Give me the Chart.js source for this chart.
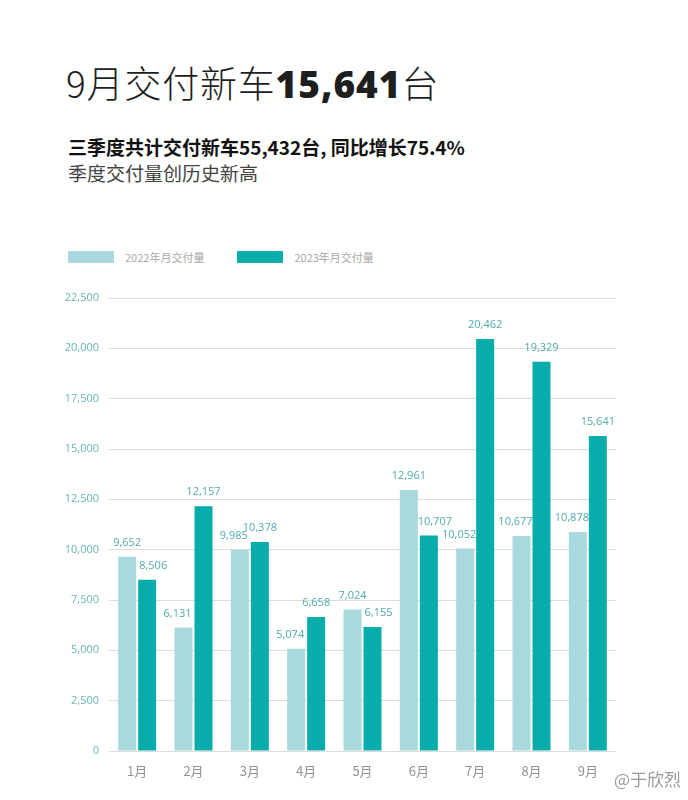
<!DOCTYPE html>
<html>
<head>
<meta charset="utf-8">
<script src="https://cdn.jsdelivr.net/npm/chart.js@4"></script>
<style>
  html, body { margin: 0; padding: 0; background: #fff; }
  body { width: 688px; height: 800px; position: relative; overflow: hidden;
         font-family: "Noto Sans CJK SC", "Noto Sans", sans-serif; }
  .title { position: absolute; left: 66px; top: 55px; font-size: 37px; font-weight: 300; color: #1e1e1e; white-space: nowrap; letter-spacing: 0.8px; }
  .title b { font-family: "Open Sans", "Noto Sans CJK SC", sans-serif; font-weight: 800; letter-spacing: 1px; }
  .sub1 { position: absolute; left: 68px; top: 133px; font-size: 19px; font-weight: 700; color: #111; white-space: nowrap; }
  .sub2 { position: absolute; left: 68px; top: 159px; font-size: 19px; color: #444; white-space: nowrap; }
  .legend { position: absolute; top: 249px; left: 68px; display: flex; align-items: center; font-size: 11px; color: #a8a8a8; }
  .legend .box { width: 46px; height: 12px; margin-right: 11px; }
  .legend .item { display: flex; align-items: center; margin-right: 33px; }
  .wm { position: absolute; left: 614px; top: 766px; font-size: 17px; color: #9a9a9a; white-space: nowrap; }
  #wrap { position: absolute; left: 0; top: 280px; width: 688px; height: 520px; }
</style>
</head>
<body>
<div class="title">9月交付新车<b>15,641</b>台</div>
<div class="sub1">三季度共计交付新车55,432台, 同比增长75.4%</div>
<div class="sub2">季度交付量创历史新高</div>
<div class="legend" id="legend"></div>
<div id="wrap"><canvas id="c"></canvas></div>
<div class="wm">@于欣烈</div>
<script>
// monthly deliveries
const MONTHS = ["1月", "2月", "3月", "4月", "5月", "6月", "7月", "8月", "9月"];
const SALES_2022 = [9652, 6131, 9985, 5074, 7024, 12961, 10052, 10677, 10878];
const SALES_2023 = [8506, 12157, 10378, 6658, 6155, 10707, 20462, 19329, 15641];
const SERIES_NAMES = ["2022年月交付量", "2023年月交付量"];

const LIGHT = "#a9d9dc", TEAL = "#06adab", LABEL = "#4fabad";

// ---------- legend (html) ----------
const legend = document.getElementById("legend");
[LIGHT, TEAL].forEach((col, i) => {
  const it = document.createElement("div");
  it.className = "item";
  it.innerHTML = `<div class="box" style="background:${col}"></div><span>${SERIES_NAMES[i]}</span>`;
  legend.appendChild(it);
});

// value labels above each bar, nudged away from a taller neighbour
const barLabels = {
  id: "barLabels",
  afterDatasetsDraw(chart) {
    const ctx = chart.ctx;
    ctx.save();
    ctx.font = "11px 'Open Sans', sans-serif";
    ctx.fillStyle = LABEL;
    ctx.textAlign = "center";
    ctx.textBaseline = "middle";
    const sets = chart.data.datasets;
    sets.forEach((ds, di) => {
      const other = sets[1 - di].data;
      chart.getDatasetMeta(di).data.forEach((bar, i) => {
        let dx = 0;
        if (other[i] > ds.data[i]) dx = di === 0 ? -6 : 6;
        ctx.fillText(Number(ds.data[i]).toLocaleString("en-US"), bar.x + dx, bar.y - 14);
      });
    });
    ctx.restore();
  }
};

new Chart(document.getElementById("c"), {
  type: "bar",
  data: {
    labels: MONTHS,
    datasets: [
      { label: SERIES_NAMES[0], data: SALES_2022, backgroundColor: LIGHT },
      { label: SERIES_NAMES[1], data: SALES_2023, backgroundColor: TEAL }
    ]
  },
  options: {
    responsive: true,
    maintainAspectRatio: false,
    animation: false,
    categoryPercentage: 0.71,
    barPercentage: 0.9,
    layout: { padding: { top: 18, right: 72, bottom: 0, left: 0 } },
    plugins: { legend: { display: false }, tooltip: { enabled: false } },
    scales: {
      x: {
        grid: { display: false, drawTicks: false },
        border: { display: false },
        ticks: { color: "#929292", font: { size: 13, family: "'Noto Sans CJK SC', sans-serif" }, padding: 12 },
        afterFit: (s) => { s.height = 49; }
      },
      y: {
        min: 0, max: 22500,
        grid: { color: "#dcdcdc", drawTicks: false },
        border: { display: false },
        ticks: {
          stepSize: 2500, padding: 10, color: "#66b6b9",
          font: { size: 11, family: "'Open Sans', sans-serif" },
          callback: (v) => Number(v).toLocaleString("en-US")
        },
        afterFit: (s) => { s.width = 109; }
      }
    }
  },
  plugins: [barLabels]
});
</script>
</body>
</html>
